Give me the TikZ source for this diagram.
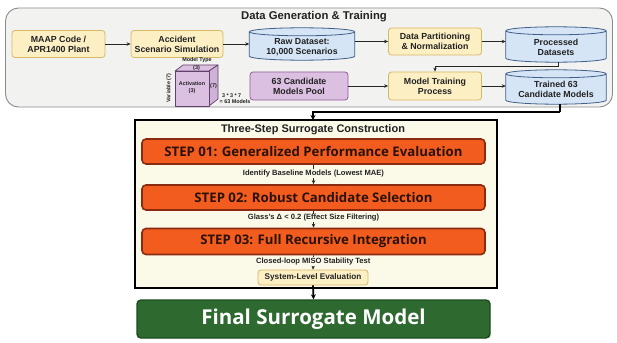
\documentclass[tikz,border=0pt]{standalone}
\usepackage{fontspec}
\setmainfont{Liberation Sans}
\newfontfamily\stepfont{Open Sans}
\usetikzlibrary{arrows.meta,calc}
\definecolor{panelbg}{HTML}{F2F2F0}
\definecolor{panelbd}{HTML}{8C8C8C}
\definecolor{ylwbg}{HTML}{FCEFC4}
\definecolor{ylwbd}{HTML}{D8B865}
\definecolor{bluebg}{HTML}{D5E5F6}
\definecolor{bluebd}{HTML}{3F5F88}
\definecolor{purpbg}{HTML}{DCC0E2}
\definecolor{purpbd}{HTML}{8E5E98}
\definecolor{stepbg}{HTML}{F25C1E}
\definecolor{stepbd}{HTML}{8A2A10}
\definecolor{steptx}{HTML}{2A1208}
\definecolor{creambg}{HTML}{FBF9E8}
\definecolor{finalbg}{HTML}{2E6A30}
\definecolor{finalbd}{HTML}{1C4A1E}
\definecolor{txt}{HTML}{222222}
\tikzset{
  every node/.style={text=txt},
  procbox/.style={draw=ylwbd, fill=ylwbg, line width=0.8pt, rounded corners=3pt,
    font=\fontsize{8.8}{10}\selectfont\bfseries, align=center, inner sep=1pt},
  poolbox/.style={procbox, draw=purpbd, fill=purpbg},
  cylnode/.style={draw=none, font=\fontsize{8.8}{10}\selectfont\bfseries, align=center, inner sep=0pt},
  stepbox/.style={draw=stepbd, fill=stepbg, line width=1.6pt, rounded corners=4pt,
    minimum width=343pt, minimum height=25pt, text=steptx,
    font=\stepfont\fontsize{13.2}{15}\selectfont\bfseries},
  steplabel/.style={font=\fontsize{7.6}{9}\selectfont\bfseries, fill=creambg, inner sep=0.8pt},
  arr/.style={-{Stealth[length=4pt,width=3.5pt]}, line width=0.8pt, draw=black!85},
  thickarr/.style={-{Stealth[length=5pt,width=5pt]}, line width=1.8pt, draw=black},
  cubetxt/.style={font=\fontsize{5.4}{6}\selectfont\bfseries, inner sep=0pt, align=center},
}
\newcommand\cylinderdraw[1]{%
  \path let \p1=(#1.south west), \p2=(#1.north east), \n1={(\x2-\x1)/2} in
    [draw=bluebd, fill=bluebg, line width=0.8pt]
    (\x1,\y2-4pt) -- (\x1,\y1+4pt) arc[start angle=180, end angle=360, x radius=\n1, y radius=4pt]
    -- (\x2,\y2-4pt) arc[start angle=0, end angle=180, x radius=\n1, y radius=4pt] -- cycle
    (\x1,\y2-4pt) arc[start angle=180, end angle=360, x radius=\n1, y radius=4pt];
}
\begin{document}
\begin{tikzpicture}[x=1pt,y=1pt]
\useasboundingbox (0,0) rectangle (617,-342);
\fill[white] (0,0) rectangle (617,-342);

% top panel
\node[draw=panelbd, fill=panelbg, line width=0.9pt, rounded corners=13pt,
  minimum width=607pt, minimum height=99pt, inner sep=0pt] (panel) at (309,-57.5) {};
\node[font=\fontsize{11.3}{13}\selectfont\bfseries] (ptitle) at (314,-17) {Data Generation \& Training};

% row 1
\node[procbox, minimum width=93pt, minimum height=27pt] (maap) at (58.5,-44) {MAAP Code /\\APR1400 Plant};
\node[procbox, minimum width=92pt, minimum height=27pt] (acc) at (177,-44) {Accident\\Scenario Simulation};
\node[cylnode, minimum width=105pt, minimum height=32pt] (raw) at (302,-44) {};
\cylinderdraw{raw}
\node[cylnode] (rawtxt) at (302,-47) {Raw Dataset:\\10,000 Scenarios};
\node[procbox, minimum width=93pt, minimum height=27pt] (part) at (435,-41.5) {Data Partitioning\\\& Normalization};
\node[cylnode, minimum width=100pt, minimum height=35pt] (proc) at (556,-44.5) {};
\cylinderdraw{proc}
\node[cylnode] (proctxt) at (556,-47) {Processed\\Datasets};

% row 2
\node[poolbox, minimum width=98pt, minimum height=28pt] (cand) at (299,-86) {63 Candidate\\Models Pool};
\node[procbox, minimum width=93pt, minimum height=28pt] (train) at (435,-86) {Model Training\\Process};
\node[cylnode, minimum width=100pt, minimum height=34pt] (trained) at (556,-87) {};
\cylinderdraw{trained}
\node[cylnode] (trainedtxt) at (556,-89.5) {Trained 63\\Candidate Models};

% cube
\filldraw[draw=purpbd!70!black, fill=purpbg, line width=0.7pt, line join=round]
  (175,-71) -- (183,-65) -- (218,-65) -- (209,-71) -- cycle;
\filldraw[draw=purpbd!70!black, fill=purpbg!85!purpbd, line width=0.7pt, line join=round]
  (209,-71) -- (218,-65) -- (218,-99) -- (209,-106) -- cycle;
\filldraw[draw=purpbd!70!black, fill=purpbg, line width=0.7pt, line join=round]
  (175,-71) rectangle (209,-106);
\node[cubetxt] (mtype) at (197,-60.5) {Model Type};
\node[cubetxt] (mt3) at (196.5,-68.5) {(3)};
\node[cubetxt] (act) at (192,-88) {Activation\\[1pt](3)};
\node[cubetxt] (v7) at (213.5,-86) {(7)};
\node[cubetxt, rotate=90] (var) at (169,-88) {Variable (7)};
\node[cubetxt, align=left] (calc) at (235,-99) {\ \,3 * 3 * 7\\= 63 Models};

% row arrows
\draw[arr] (maap.east) -- (acc.west);
\draw[arr] (acc.east) -- (raw.west |- acc.east);
\draw[arr] (raw.east |- part.west) -- (part.west);
\draw[arr] (part.east) -- (proc.west |- part.east);
\draw[arr] (cand.east) -- (train.west);
\draw[arr] (train.east) -- (trained.west |- train.east);
\coordinate (pe) at (558,-66);
\draw[arr] (proc.south -| pe) -- (pe) -| (train.north);

% three step box
\node[draw=black, fill=creambg, line width=1.3pt, minimum width=362pt, minimum height=168pt,
  inner sep=0pt] (three) at (316,-204) {};
\node[font=\fontsize{11}{12}\selectfont\bfseries] (ttitle) at (313,-129.5) {Three-Step Surrogate Construction};
\coordinate (te) at (560,-112);
\draw[line width=1.8pt] (trained.south -| te) -- (te);
\draw[thickarr] (te) -- (313,-112) -- (313,-120);

\node[stepbox] (s1) at (313.5,-151.5) {STEP 01: Generalized Performance Evaluation};
\node[stepbox] (s2) at (313.5,-197.5) {STEP 02: Robust Candidate Selection};
\node[stepbox, minimum height=26pt] (s3) at (313.5,-241.5) {STEP 03: Full Recursive Integration};
\node[procbox, minimum width=110pt, minimum height=15pt, font=\fontsize{8.2}{9}\selectfont\bfseries] (sys) at (313,-277.5) {System-Level Evaluation};

\draw[arr, line width=0.6pt] (s1.south) -- (s2.north) node[steplabel, pos=0.45] (l1) {Identify Baseline Models (Lowest MAE)};
\draw[arr, line width=0.6pt] (s2.south) -- (s3.north) node[steplabel, pos=0.42] (l2) {Glass's Δ < 0.2 (Effect Size Filtering)};
\draw[arr, line width=0.6pt] (s3.south) -- (sys.north) node[steplabel, pos=0.45] (l3) {Closed-loop MISO Stability Test};

\node[draw=finalbd, fill=finalbg, line width=1.4pt, rounded corners=4pt, minimum width=353pt,
  minimum height=38pt, text=white, font=\stepfont\fontsize{20.5}{24}\selectfont\bfseries] (final) at (313.5,-319) {Final Surrogate Model};
\draw[thickarr] (sys.south) -- (final.north);
\end{tikzpicture}
\end{document}
